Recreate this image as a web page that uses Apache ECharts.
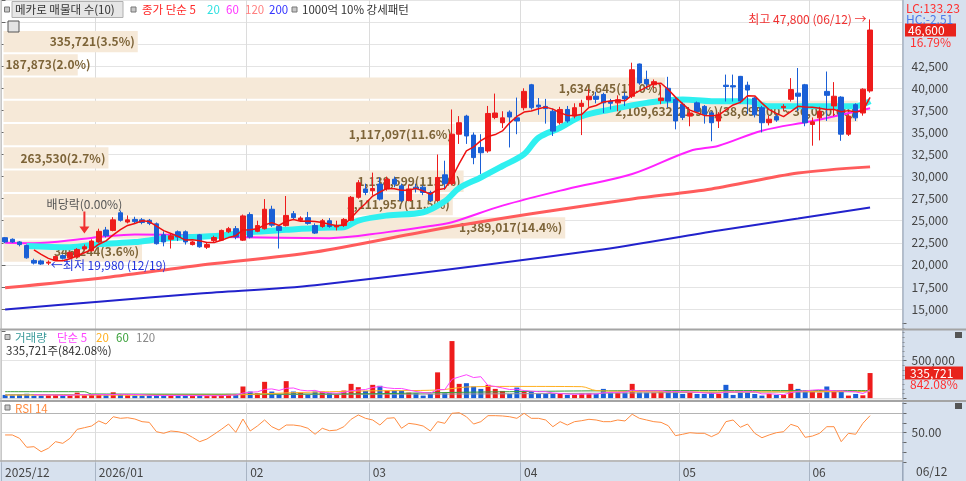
<!DOCTYPE html>
<html><head><meta charset="utf-8">
<script src="https://cdn.jsdelivr.net/npm/echarts@6/dist/echarts.min.js"></script>
<style>html,body{margin:0;padding:0;background:#fff}#c{width:966px;height:481px}</style>
</head><body><div id="c"></div>
<script>
// ---------------- DATA ----------------
const dates = [
'2025/12/11','2025/12/12','2025/12/15','2025/12/16','2025/12/17','2025/12/18','2025/12/19','2025/12/22','2025/12/23','2025/12/24','2025/12/26','2025/12/29','2025/12/30',
'2026/01/02','2026/01/05','2026/01/06','2026/01/07','2026/01/08','2026/01/09','2026/01/12','2026/01/13','2026/01/14','2026/01/15','2026/01/16','2026/01/19','2026/01/20','2026/01/21','2026/01/22','2026/01/23','2026/01/26','2026/01/27','2026/01/28','2026/01/29','2026/01/30',
'2026/02/02','2026/02/03','2026/02/04','2026/02/05','2026/02/06','2026/02/09','2026/02/10','2026/02/11','2026/02/12','2026/02/13','2026/02/19','2026/02/20','2026/02/23','2026/02/24','2026/02/25','2026/02/26','2026/02/27',
'2026/03/03','2026/03/04','2026/03/05','2026/03/06','2026/03/09','2026/03/10','2026/03/11','2026/03/12','2026/03/13','2026/03/16','2026/03/17','2026/03/18','2026/03/19','2026/03/20','2026/03/23','2026/03/24','2026/03/25','2026/03/26','2026/03/27','2026/03/30','2026/03/31',
'2026/04/01','2026/04/02','2026/04/03','2026/04/06','2026/04/07','2026/04/08','2026/04/09','2026/04/10','2026/04/13','2026/04/14','2026/04/15','2026/04/16','2026/04/17','2026/04/20','2026/04/21','2026/04/22','2026/04/23','2026/04/24','2026/04/27','2026/04/28','2026/04/29','2026/04/30',
'2026/05/04','2026/05/06','2026/05/07','2026/05/08','2026/05/11','2026/05/12','2026/05/13','2026/05/14','2026/05/15','2026/05/18','2026/05/19','2026/05/20','2026/05/21','2026/05/22','2026/05/26','2026/05/27','2026/05/28','2026/05/29',
'2026/06/01','2026/06/02','2026/06/04','2026/06/05','2026/06/08','2026/06/09','2026/06/10','2026/06/11','2026/06/12'];

const opens = [
23080,22900,22600,22200,20500,20450,20200,20500,21050,20800,20900,21800,21600,
22600,23950,23900,25900,24850,25150,25100,25050,24650,23400,22900,23750,23750,22300,23400,22000,22750,22800,23750,24100,22800,
25700,23800,24100,26300,24350,24450,25800,25050,25350,24450,24350,25000,24300,24450,25050,27650,28600,
28400,29150,28600,29700,28950,27300,28800,28800,28200,27300,30200,29200,34800,36850,34700,33300,32900,36700,36100,37300,36650,
37800,40400,38100,37950,37400,36100,37600,36850,37950,38700,39100,39300,38550,38350,39100,39100,42750,41000,40400,38600,40000,38750,
38200,36850,38350,37950,37200,36300,40350,40300,41350,40350,38900,37800,36100,36800,37800,38750,39450,40400,
35900,36650,39650,38000,39000,34800,38150,37200,39700];
const closes = [
22600,22600,22300,20800,20200,20100,20300,20950,20750,21400,21750,22050,22700,
23800,23300,25100,25050,25100,24900,24800,24700,22400,22600,23300,23150,22600,22600,22050,22300,23100,23900,24100,23150,25550,
23150,24450,26300,24500,23900,25600,25350,25300,24700,23600,25000,24350,24450,25150,27650,29300,28200,
28650,27450,29700,29150,27300,28600,28600,28200,27300,29900,29200,34800,36100,34600,32150,32700,37150,37200,36650,36750,36300,
39650,37800,37900,37700,35150,37600,36300,37800,38300,39100,38750,38350,38300,38700,38800,42100,40600,40500,40750,38900,38550,36300,
36700,37200,37400,37050,36100,37050,40200,40150,38550,39800,37000,36100,36500,36400,37950,39850,39100,36100,
36200,37400,39200,39100,34800,36850,36650,39900,46600];
const lows = [
22450,22500,22100,20700,20050,20000,19980,20450,20600,20700,20800,21650,21500,
22500,23100,23800,24900,24700,24700,24600,24500,22300,22100,21850,22700,22300,22200,21950,21800,22600,22700,23600,22900,22700,
23000,23700,24000,24300,21850,24350,25100,24900,24550,23500,24200,24200,23900,24300,24950,27500,27900,
27850,27300,28400,28800,27100,27200,28200,27900,27100,27200,28500,29000,33700,33700,31400,30300,32700,36500,35500,33300,34800,
37500,37600,37000,36000,34600,35900,36100,36600,34700,37900,38300,37200,37600,37400,38000,38900,40400,39900,40000,38200,37800,35350,
36400,35700,37200,36000,34000,35500,38500,38500,38300,37100,36700,35000,35800,36200,37400,38500,37400,35700,
33500,34100,36300,36850,34050,34600,36300,36900,39500];
const highs = [
23150,23000,22700,22300,20700,20600,20500,21050,21200,21500,21900,22300,22900,
24100,24300,25400,26150,25600,25450,25300,25200,24800,23800,23500,23900,23900,22700,23500,22500,23300,24000,24300,24400,25700,
25950,25000,27450,26700,24400,27800,26100,25500,26000,24700,25200,25300,25000,25300,27800,29600,29200,
30450,29900,30000,30000,29200,29100,29200,29000,28400,32500,31800,37600,36850,37000,35000,34800,38000,39400,37400,37500,38950,
40000,40500,38900,38800,37700,37900,38000,38300,38700,39900,39600,39500,38800,39200,39500,42900,42800,42000,41000,40400,41300,39000,
38400,37500,38500,38100,37400,37300,41550,41550,41400,40750,39000,38000,36900,37200,38200,41150,42300,40500,
36700,37900,41900,40700,39100,37000,38300,40000,47800];
const volumes = [
45000,40000,55000,60000,35000,35000,40000,45000,35000,40000,75000,40000,45000,
45000,40000,80000,55000,40000,35000,35000,35000,45000,40000,35000,35000,40000,30000,40000,30000,35000,40000,58000,58000,157000,
90000,67000,219000,90000,58000,228000,90000,76000,45000,90000,90000,67000,45000,103000,192000,148000,98000,
179000,166000,103000,103000,103000,76000,67000,36000,58000,345000,67000,761000,192000,201000,157000,125000,179000,125000,98000,58000,143000,
90000,90000,58000,58000,58000,58000,45000,45000,67000,67000,58000,125000,76000,76000,76000,192000,76000,76000,76000,90000,103000,103000,
58000,76000,58000,58000,76000,58000,179000,45000,76000,76000,58000,36000,58000,45000,45000,192000,125000,90000,
90000,76000,157000,90000,90000,36000,58000,39868,335721];
const rsi14 = [
47.7,47.7,44.3,35.2,35.8,30.7,34.2,40.9,39.2,44.3,53.4,55.1,56.8,
61.9,58.8,66.2,64.6,65.2,63.9,61.2,60.5,51.0,49.4,51.7,51.0,49.4,45.3,40.9,43.6,48.4,53.4,58.8,50.4,63.9,
51.7,56.8,62.9,56.1,52.7,57.8,57.8,56.8,54.5,48.4,54.5,52.0,52.7,56.1,63.6,68.0,64.6,
62.9,57.8,64.6,65.2,54.5,59.5,58.5,56.8,51.7,61.2,59.5,69.7,70.3,66.2,58.8,61.2,67.3,67.3,67.0,66.2,64.6,
69.7,64.6,64.6,62.9,56.1,61.2,57.8,61.2,62.2,63.6,62.9,61.2,61.2,62.9,61.9,68.7,64.6,62.9,61.2,60.5,57.1,47.0,
48.4,50.0,49.4,49.4,46.0,49.4,61.2,62.9,55.5,58.8,49.4,44.9,47.7,50.0,51.0,58.5,56.1,45.3,
46.6,49.4,56.1,56.1,40.9,49.4,48.4,59.5,67.3];

// moving-average readings [dayIndex, value]
const ma20Pts = [[3,22150],[9,22000],[13,22350],[18,22580],[22,22960],[30,23330],[34,23710],[39,23970],[44,24200],[47,24270],[49,25020],[53,25590],[58,25960],[61,27200],[63,28700],[66,29900],[69,31200],[72,32540],[74,34400],[77,35530],[80,36850],[84,37600],[89,38350],[94,38730],[98,38540],[103,38540],[106,37970],[112,37970],[118,37970],[120,38540]];
const ma60Pts = [[0,22500],[4,22450],[11,22960],[13,23150],[18,23450],[27,23330],[31,23150],[45,23030],[53,23710],[59,24400],[62,24830],[69,26710],[78,28600],[87,30290],[95,32900],[99,33500],[105,35200],[112,36300],[120,37750]];
const ma120Pts = [[0,17400],[14,18570],[27,19960],[43,21460],[59,23900],[73,25780],[87,27470],[98,28600],[110,30400],[120,31100]];
const ma200Pts = [[0,14950],[13,15820],[27,16770],[43,17700],[82,21650],[99,23900],[110,25250],[120,26490]];
const volMa20Pts = [[0,42000],[12,42000],[30,42000],[40,75000],[50,98000],[60,110000],[64,150000],[70,158000],[80,155000],[82,103000],[90,88000],[100,85000],[110,88000],[120,92000]];
const volMa60Pts = [[0,88000],[11,88000],[12,58000],[30,55000],[50,60000],[60,75000],[70,88000],[80,98000],[90,102000],[100,103000],[110,103000],[120,103000]];
const volMa120Pts = [[0,50000],[40,52000],[70,60000],[100,80000],[120,88000]];

// price-volume profile (bottom -> top)
const bandEdges = [20250,22885,25520,28155,30790,33425,36060,38695,41330,43965,46600];
const bandVolumes = [346244,1389017,1111957,1138599,263530,1117097,2109632,1634645,187873,335721];
const bandPct = [3.6,14.4,11.5,11.8,2.7,11.6,21.9,17.0,2.0,3.5];

const tickLabels = ['2025/12','2026/01','02','03','04','05','06'];
const exDivDate = '2025/12/29';

// ---------------- BUILD ----------------
const RED = '#ee1c1c', BLUE = '#1a5fd6';
const FONT = '"Noto Sans CJK KR","Noto Sans",sans-serif';
const N = dates.length;
const cats = dates.concat(['', '', '', '']);
const monthStarts = [];
dates.forEach((d, i) => { if (i === 0 || d.slice(0, 7) !== dates[i - 1].slice(0, 7)) monthStarts.push(i); });
const isMonth = (i) => monthStarts.indexOf(i) >= 0;
const fmt = (v) => v.toLocaleString('en-US');
const fmt2 = (v) => v.toLocaleString('en-US', {minimumFractionDigits: 2, maximumFractionDigits: 2});
function sparse(pts) { const a = new Array(N).fill(null); pts.forEach(p => { a[p[0]] = p[1]; }); return a; }
function ma(arr, n) { return arr.map((_, i) => i < n - 1 ? null : arr.slice(i - n + 1, i + 1).reduce((s, v) => s + v, 0) / n); }

const candleData = dates.map((_, i) => [opens[i], closes[i], lows[i], highs[i]]);
const maxBand = bandVolumes.indexOf(Math.max(...bandVolumes));
const iHi = highs.indexOf(Math.max(...highs));
const iLo = lows.indexOf(Math.min(...lows));
const iDiv = dates.indexOf(exDivDate);

function lineS(name, data, color, width, xi, yi, z, smooth) {
  return {name, type: 'line', data, xAxisIndex: xi, yAxisIndex: yi, symbol: 'none', connectNulls: true,
    smooth: smooth || false, lineStyle: {color, width}, z, silent: true};
}

const catAxis = (gi, extra) => Object.assign({
  type: 'category', gridIndex: gi, data: cats, boundaryGap: true,
  axisLine: {show: false}, axisTick: {show: false}, axisLabel: {show: false},
  splitLine: {show: true, interval: (i) => isMonth(i), lineStyle: {color: '#dcdcdc'}}
}, extra || {});

const GL = 1.5, GW = 901;
const option = {
  animation: false,
  backgroundColor: '#ffffff',
  textStyle: {fontFamily: FONT},
  grid: [
    {left: GL, width: GW, top: -1, height: 332.1},
    {left: GL, width: GW, top: 323.1, height: 75.2},
    {left: GL, width: GW, top: 403.15, height: 59.1}
  ],
  xAxis: [
    catAxis(0),
    {type: 'value', gridIndex: 0, min: 0, max: 2220000, show: false},
    catAxis(1),
    catAxis(2, {
      axisLabel: {show: true, interval: (i) => isMonth(i), formatter: (v, i) => { const k = monthStarts.indexOf(i); return k >= 0 ? tickLabels[k] : ''; },
        align: 'left', color: '#444', fontSize: 12, margin: 4},
      axisTick: {show: true, interval: (i) => isMonth(i), length: 19, lineStyle: {color: '#a8b4c4'}}
    })
  ],
  yAxis: [
    {type: 'value', gridIndex: 0, position: 'right', min: 12500, max: 50000, interval: 2500,
      axisLine: {show: false}, axisTick: {show: true, length: 4, lineStyle: {color: '#666'}},
      axisLabel: {formatter: (v) => (v < 15000 || v > 42500) ? '' : fmt(v), color: '#444', fontSize: 12, margin: 9},
      splitLine: {show: true, lineStyle: {color: ['transparent'].concat(new Array(15).fill('#e4e4e4'))}}},
    {type: 'value', gridIndex: 1, position: 'right', min: 0, max: 1000000, interval: 500000,
      axisLine: {show: false}, axisTick: {show: true, length: 4, lineStyle: {color: '#666'}},
      minorTick: {show: true, splitNumber: 8, length: 2, lineStyle: {color: '#888'}},
      axisLabel: {formatter: (v) => v === 500000 ? fmt(v) : '', color: '#444', fontSize: 12, margin: 9},
      splitLine: {show: true, lineStyle: {color: ['transparent', '#e4e4e4', 'transparent']}}},
    {type: 'value', gridIndex: 2, position: 'right', min: 20, max: 80, interval: 10,
      axisLine: {show: false}, axisTick: {show: true, length: 4, lineStyle: {color: '#666'}},
      axisLabel: {formatter: (v) => v === 50 ? '50.00' : '', color: '#444', fontSize: 12, margin: 9},
      splitLine: {show: true, lineStyle: {color: ['transparent', 'transparent', 'transparent', '#e0e0e0', 'transparent', '#b4b4b4', 'transparent']}}}
  ],
  series: [
    {type: 'custom', name: 'profile', xAxisIndex: 1, yAxisIndex: 0, z: 1, silent: true, clip: false,
      data: bandVolumes.map((v, i) => [v, bandEdges[i], bandEdges[i + 1]]),
      encode: {x: 0, y: [1, 2]},
      renderItem: function (params, api) {
        const i = params.dataIndex;
        const v = api.value(0), lo = api.value(1), hi = api.value(2);
        const pTop = api.coord([0, hi]), pBot = api.coord([v, lo]);
        const x0 = pTop[0] + 2, x1 = pBot[0];
        const y0 = pTop[1] + 1, y1 = pBot[1] - 1;
        let txt = fmt(bandVolumes[i]) + '(' + bandPct[i].toFixed(1) + '%)';
        if (i === maxBand) txt += '(' + fmt2(bandEdges[i + 1]) + ' ~ ' + fmt2(bandEdges[i]) + ')';
        const wide = (x1 - x0) > 95;
        return {type: 'group', children: [
          {type: 'rect', shape: {x: x0, y: y0, width: x1 - x0, height: y1 - y0}, style: {fill: '#f6e9d8'}},
          {type: 'text', x: wide ? x1 - 3 : x0 + 2, y: (y0 + y1) / 2,
            style: {text: txt, fill: '#7d6438', font: 'bold 12px ' + FONT,
              align: wide ? 'right' : 'left', textAlign: wide ? 'right' : 'left', verticalAlign: 'middle', textVerticalAlign: 'middle'}}
        ]};
      }},
    lineS('MA200', sparse(ma200Pts), '#2222cc', 2, 0, 0, 2, 0.3),
    lineS('MA120', sparse(ma120Pts), '#ff5c5c', 3, 0, 0, 2, 0.3),
    lineS('MA60', sparse(ma60Pts), '#ff22ff', 2, 0, 0, 2, 0.35),
    lineS('MA20', sparse(ma20Pts), '#2ff0f0', 6, 0, 0, 3, 0.35),
    {type: 'candlestick', name: 'price', xAxisIndex: 0, yAxisIndex: 0, data: candleData, barWidth: 5, z: 4, silent: true,
      itemStyle: {color: RED, color0: BLUE, borderColor: RED, borderColor0: BLUE, borderWidth: 1},
      markPoint: {silent: true, animation: false, data: [
        {coord: [iHi, highs[iHi]], symbol: 'circle', symbolSize: 1, itemStyle: {color: 'rgba(0,0,0,0)'},
          label: {show: true, position: 'left', distance: 3, formatter: '최고 ' + fmt(highs[iHi]) + ' (' + dates[iHi].slice(5) + ') →', color: '#f03030', fontSize: 12, fontFamily: FONT}},
        {coord: [iLo, lows[iLo]], symbol: 'circle', symbolSize: 1, itemStyle: {color: 'rgba(0,0,0,0)'},
          label: {show: true, position: 'right', distance: 2, formatter: '←최저 ' + fmt(lows[iLo]) + ' (' + dates[iLo].slice(5) + ')', color: '#2233dd', fontSize: 12, fontFamily: FONT}},
        {coord: [iDiv, highs[iDiv]], symbol: 'path://M4,0L6,0L6,15L10,15L5,22L0,15L4,15Z', symbolSize: [10, 22], symbolOffset: [0, -22],
          itemStyle: {color: '#f03030'},
          label: {show: true, position: 'top', distance: 1, formatter: '배당락(0.00%)', color: '#555', fontSize: 12, fontFamily: FONT}}
      ]}},
    lineS('MA5', ma(closes, 5), '#ee1111', 1.5, 0, 0, 5),
    {type: 'bar', name: 'volume', xAxisIndex: 2, yAxisIndex: 1, barWidth: 5, z: 2, silent: true,
      data: volumes.map((v, i) => ({value: v, itemStyle: {color: closes[i] >= opens[i] ? RED : BLUE}}))},
    lineS('vMA120', sparse(volMa120Pts), '#999999', 1, 2, 1, 3, 0.3),
    lineS('vMA60', sparse(volMa60Pts), '#3aa03a', 1, 2, 1, 3, 0.3),
    lineS('vMA20', sparse(volMa20Pts), '#ffb020', 1, 2, 1, 3, 0.3),
    lineS('vMA5', ma(volumes, 5), '#ff44ff', 1, 2, 1, 3),
    lineS('RSI', rsi14, '#ff8c40', 1, 3, 2, 3)
  ]
};

const chart = echarts.init(document.getElementById('c'));
chart.setOption(option);

const last = N - 1;
const yP = chart.convertToPixel({yAxisIndex: 0}, closes[last]);
const yV = chart.convertToPixel({yAxisIndex: 1}, volumes[last]);
const chg = ((closes[last] - closes[last - 1]) / closes[last - 1] * 100).toFixed(2) + '%';

function T(x, y, text, fill, size) {
  return {type: 'text', x, y, z: 60, silent: true,
    style: {text, fill, font: (size || 12) + 'px ' + FONT, verticalAlign: 'middle', textVerticalAlign: 'middle'}};
}
function sq(x, y) { return {type: 'rect', z: 60, shape: {x, y, width: 5, height: 5}, style: {fill: '#c8c8c8', stroke: '#777', lineWidth: 1}}; }
function L(x1, y1, x2, y2, c, w) { return {type: 'line', z: 50, silent: true, shape: {x1, y1, x2, y2}, style: {stroke: c, lineWidth: w}}; }
const LS = 11.5;
const g = [
  {type: 'rect', z: -10, shape: {x: 903, y: 0, width: 63, height: 481}, style: {fill: '#d7e1ee'}},
  {type: 'rect', z: -10, shape: {x: 0, y: 462, width: 903, height: 19}, style: {fill: '#d7e1ee'}},
  L(903, 0, 903, 481, '#8e9db2', 1),
  L(0, 329.5, 966, 329.5, '#a4a4a4', 2),
  L(0, 401, 966, 401, '#a4a4a4', 2),
  L(0, 461, 903, 461, '#a4a4a4', 1.5),
  L(0, 398.8, 903, 398.8, '#d0d0d0', 1),
  L(1, 0, 1, 461, '#b4b4b4', 1),
  // top legend
  sq(4.5, 7),
  {type: 'rect', z: 55, shape: {x: 12, y: 1.5, width: 111, height: 16}, style: {fill: '#e6e6e6', stroke: '#b0b0b0', lineWidth: 1}},
  T(15, 10, '메카로 매물대 수(10)', '#333', LS),
  sq(131, 7),
  T(142, 10, '종가 단순 5', '#ff2828', LS),
  T(207, 10, '20', '#2ee0e0', LS),
  T(226, 10, '60', '#ff33ff', LS),
  T(245, 10, '120', '#ff8080', LS),
  T(269, 10, '200', '#3333ff', LS),
  sq(292, 7),
  T(302, 10, '1000억 10% 강세패턴', '#333', LS),
  {type: 'rect', z: 60, shape: {x: 8, y: 21, width: 11, height: 11}, style: {fill: '#e4e4e4', stroke: '#555', lineWidth: 1}},
  // volume legend
  sq(5, 334.5),
  T(15, 337.5, '거래량', '#3a9a9a', LS),
  T(57, 337.5, '단순 5', '#ff44ff', LS),
  T(96, 337.5, '20', '#ffb020', LS),
  T(116, 337.5, '60', '#3aa03a', LS),
  T(136, 337.5, '120', '#888', LS),
  T(6, 350.5, fmt(volumes[last]) + '주(842.08%)', '#333', LS),
  // RSI legend
  sq(5, 405),
  T(15, 408.5, 'RSI 14', '#ff8c40', LS),
  // right box labels
  T(906, 8, 'LC:133.23', '#ff3030'),
  T(906, 19, 'HC:-2.51', '#4a78e8'),
  {type: 'rect', z: 58, shape: {x: 905, y: yP - 6.5, width: 51, height: 13}, style: {fill: '#e8231b'}},
  T(908, yP, fmt(closes[last]), '#ffffff'),
  T(910, yP + 12, chg, '#ff3030'),
  {type: 'rect', z: 58, shape: {x: 905, y: yV - 6.5, width: 58, height: 13}, style: {fill: '#e8231b'}},
  T(910, yV, fmt(volumes[last]), '#ffffff'),
  T(910, yV + 11.5, '842.08%', '#ff3030'),
  {type: 'rect', z: 60, shape: {x: 955, y: 332, width: 7, height: 6}, style: {fill: '#555'}},
  {type: 'rect', z: 60, shape: {x: 955, y: 403, width: 7, height: 6}, style: {fill: '#555'}},
  T(916, 471.5, dates[last].slice(5), '#444')
];
chart.setOption({graphic: g});
</script>
</body></html>
